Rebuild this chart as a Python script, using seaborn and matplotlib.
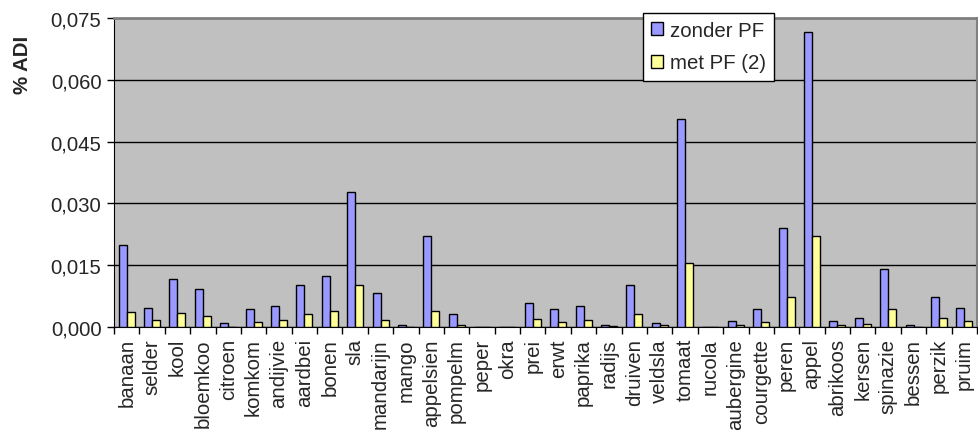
import pandas as pd
import numpy as np
import matplotlib
matplotlib.use("Agg")
import matplotlib.pyplot as plt
from matplotlib.ticker import FuncFormatter, FixedLocator
import seaborn as sns


# ==========================================
# DATA
# ==========================================

categories = [
    "banaan", "selder", "kool", "bloemkoo", "citroen", "komkom",
    "andijvie", "aardbei", "bonen", "sla", "mandarijn", "mango",
    "appelsien", "pompelm", "peper", "okra", "prei", "erwt",
    "paprika", "radijs", "druiven", "veldsla", "tomaat", "rucola",
    "aubergine", "courgette", "peren", "appel", "abrikoos", "kersen",
    "spinazie", "bessen", "perzik", "pruim"
]

zonder_pf = [
    0.0198, 0.0047, 0.0116, 0.0093, 0.0009, 0.0043,
    0.0050, 0.0102, 0.0125, 0.0327, 0.0082, 0.0005,
    0.0222, 0.0031, 0.0, 0.0, 0.0058, 0.0043,
    0.0051, 0.0005, 0.0101, 0.0009, 0.0505, 0.0,
    0.0015, 0.0043, 0.0241, 0.0715, 0.0015, 0.0023,
    0.0140, 0.0005, 0.0074, 0.0047
]

met_pf = [
    0.0036, 0.0016, 0.0035, 0.0027, 0.0001, 0.0012,
    0.0016, 0.0031, 0.0039, 0.0101, 0.0016, 0.0001,
    0.0039, 0.0005, 0.0, 0.0, 0.0019, 0.0012,
    0.0016, 0.0002, 0.0031, 0.0005, 0.0155, 0.0,
    0.0005, 0.0012, 0.0074, 0.0222, 0.0005, 0.0008,
    0.0043, 0.0001, 0.0023, 0.0015
]

series_names = ["zonder PF", "met PF (2)"]

y_ticks = [0.0, 0.015, 0.030, 0.045, 0.060, 0.075]


# ==========================================
# LONG FORMAT TABLE
# ==========================================

dataframe = pd.concat([
    pd.DataFrame({
        "product": categories,
        "value": zonder_pf,
        "serie": series_names[0]
    }),
    pd.DataFrame({
        "product": categories,
        "value": met_pf,
        "serie": series_names[1]
    })
])


# ==========================================
# FIGURE
# ==========================================

sns.set_style("white")

plt.rcParams["font.family"] = ["Liberation Sans", "DejaVu Sans"]

font_size = 14.7

fig = plt.figure(figsize=(9.79, 4.35), dpi=100)

ax = fig.add_axes([
    114 / 979,
    (435 - 328) / 435,
    (977 - 114) / 979,
    (328 - 19) / 435
])

ax.set_facecolor("#C0C0C0")

sns.barplot(
    data=dataframe,
    x="product",
    y="value",
    hue="serie",
    palette=["#9999FF", "#FFFF99"],
    width=0.63,
    gap=0,
    edgecolor="black",
    linewidth=1,
    saturation=1,
    ax=ax,
    zorder=3
)

# ------------------------------------------
# AXES
# ------------------------------------------

ax.set_xlim(-0.5, len(categories) - 0.5)
ax.set_ylim(0, 0.075)

ax.set_yticks(y_ticks)
ax.yaxis.set_major_formatter(
    FuncFormatter(lambda v, p: f"{v:.3f}".replace(".", ","))
)

ax.grid(axis="y", color="black", linewidth=1, zorder=1)
ax.set_axisbelow(True)

ax.set_xlabel("")
ax.set_ylabel("% ADI", fontsize=font_size, fontweight="bold")
ax.yaxis.set_label_coords(-0.095, 0.85)

ax.tick_params(axis="x", which="major", length=0, pad=8,
               labelsize=font_size, labelrotation=90)
ax.xaxis.set_minor_locator(
    FixedLocator(np.arange(-0.5, len(categories), 1.0))
)
ax.tick_params(axis="x", which="minor", length=5, width=1,
               color="black", direction="out", bottom=True)
ax.tick_params(axis="y", length=5, width=1, color="black",
               direction="out", left=True, labelsize=font_size, pad=4)

ax.spines["left"].set_color("black")
ax.spines["bottom"].set_color("black")
ax.spines["top"].set_color("#808080")
ax.spines["top"].set_linewidth(2)
ax.spines["right"].set_color("#808080")
ax.spines["right"].set_linewidth(1.5)

# ------------------------------------------
# LEGEND
# ------------------------------------------

handles, labels = ax.get_legend_handles_labels()

legend = ax.legend(
    handles,
    labels,
    loc="upper left",
    bbox_to_anchor=(643 / 979, 1 - 14 / 435),
    bbox_transform=fig.transFigure,
    borderaxespad=0,
    fancybox=False,
    framealpha=1,
    edgecolor="black",
    fontsize=font_size,
    handlelength=0.6,
    handleheight=0.6,
    handletextpad=0.3,
    labelspacing=0.65,
    borderpad=0.4
)

legend.get_frame().set_linewidth(1)

fig.savefig("out.png", dpi=100)
